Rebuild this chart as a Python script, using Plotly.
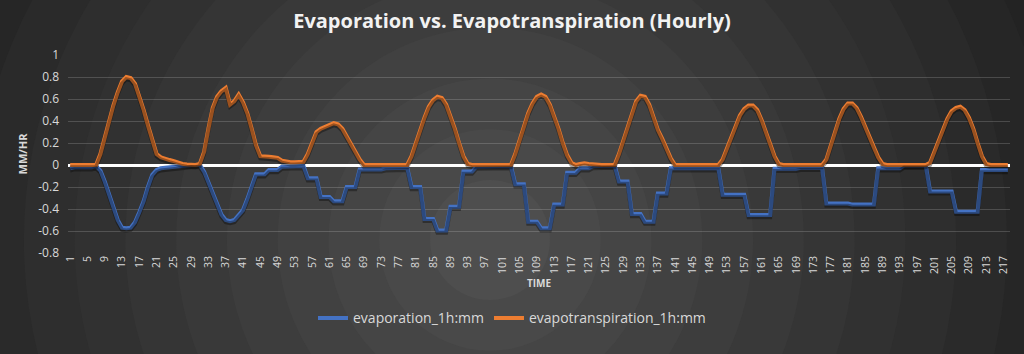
import plotly.graph_objects as go

# Hour index (categories)
hours = list(range(1, 219))

# evapotranspiration_1h:mm, 24 values per row
evapotranspiration = [
    0, 0, 0, 0, 0, 0, 0, 0.1, 0.25, 0.4, 0.54, 0.66, 0.76, 0.8, 0.79, 0.74, 0.63, 0.5, 0.36, 0.22, 0.1, 0.07, 0.055, 0.045,
    0.035, 0.02, 0.01, 0.005, 0, 0, 0.01, 0.12, 0.33, 0.52, 0.62, 0.67, 0.7, 0.55, 0.58, 0.64, 0.57, 0.47, 0.33, 0.18, 0.08, 0.08, 0.075, 0.07,
    0.065, 0.04, 0.03, 0.025, 0.025, 0.025, 0.03, 0.1, 0.2, 0.3, 0.33, 0.35, 0.36, 0.38, 0.37, 0.33, 0.26, 0.19, 0.12, 0.05, 0, 0, 0, 0,
    0, 0, 0, 0, 0, 0, 0, 0.08, 0.2, 0.32, 0.43, 0.53, 0.59, 0.62, 0.61, 0.55, 0.45, 0.33, 0.2, 0.08, 0.01, 0, 0, 0,
    0, 0, 0, 0, 0, 0, 0, 0.1, 0.22, 0.35, 0.47, 0.56, 0.62, 0.64, 0.62, 0.55, 0.45, 0.33, 0.2, 0.09, 0.02, 0, 0.01, 0.015,
    0.01, 0.005, 0, 0, 0, 0, 0, 0.1, 0.22, 0.36, 0.48, 0.58, 0.63, 0.62, 0.55, 0.44, 0.32, 0.24, 0.15, 0.06, 0, 0, 0, 0,
    0, 0, 0, 0, 0, 0, 0, 0.05, 0.15, 0.26, 0.36, 0.45, 0.51, 0.54, 0.54, 0.5, 0.41, 0.3, 0.18, 0.08, 0.01, 0, 0, 0,
    0, 0, 0, 0, 0, 0, 0, 0.05, 0.17, 0.3, 0.42, 0.51, 0.56, 0.56, 0.52, 0.44, 0.34, 0.25, 0.16, 0.07, 0.01, 0, 0, 0,
    0, 0, 0, 0, 0, 0, 0, 0.02, 0.12, 0.22, 0.33, 0.42, 0.49, 0.52, 0.53, 0.5, 0.43, 0.33, 0.2, 0.08, 0.01, 0, 0, 0,
    0, 0,
]

# evaporation_1h:mm, 24 values per row
evaporation = [
    -0.03, -0.02, -0.02, -0.02, -0.02, -0.02, -0.01, -0.05, -0.15, -0.27, -0.39, -0.5, -0.57, -0.575, -0.57, -0.52, -0.43, -0.33, -0.2, -0.09, -0.045, -0.03, -0.025, -0.02,
    -0.02, -0.015, -0.01, -0.005, 0, 0, 0, -0.06, -0.16, -0.27, -0.37, -0.45, -0.5, -0.51, -0.5, -0.46, -0.41, -0.31, -0.19, -0.085, -0.085, -0.085, -0.045, -0.045,
    -0.045, -0.015, -0.015, -0.015, -0.01, -0.01, -0.01, -0.12, -0.12, -0.12, -0.29, -0.29, -0.29, -0.33, -0.33, -0.33, -0.2, -0.2, -0.2, -0.04, -0.04, -0.04, -0.04, -0.04,
    -0.04, -0.03, -0.03, -0.03, -0.025, -0.025, -0.025, -0.2, -0.2, -0.2, -0.49, -0.49, -0.49, -0.595, -0.595, -0.595, -0.38, -0.38, -0.38, -0.06, -0.06, -0.06, -0.015, -0.015,
    -0.015, -0.01, -0.01, -0.01, -0.01, -0.01, -0.01, -0.175, -0.175, -0.175, -0.515, -0.515, -0.515, -0.575, -0.575, -0.575, -0.36, -0.36, -0.36, -0.07, -0.07, -0.07, -0.03, -0.03,
    -0.03, -0.01, -0.01, -0.01, -0.005, -0.005, -0.005, -0.15, -0.15, -0.15, -0.445, -0.445, -0.445, -0.515, -0.515, -0.515, -0.26, -0.26, -0.26, -0.03, -0.03, -0.03, -0.03, -0.03,
    -0.03, -0.03, -0.03, -0.03, -0.03, -0.03, -0.03, -0.27, -0.27, -0.27, -0.27, -0.27, -0.27, -0.455, -0.455, -0.455, -0.455, -0.455, -0.455, -0.035, -0.035, -0.035, -0.035, -0.035,
    -0.035, -0.025, -0.025, -0.025, -0.025, -0.025, -0.025, -0.35, -0.35, -0.35, -0.35, -0.35, -0.35, -0.36, -0.36, -0.36, -0.36, -0.36, -0.36, -0.03, -0.03, -0.03, -0.03, -0.03,
    -0.03, -0.005, -0.005, -0.005, -0.005, -0.005, -0.005, -0.24, -0.24, -0.24, -0.24, -0.24, -0.24, -0.425, -0.425, -0.425, -0.425, -0.425, -0.425, -0.045, -0.045, -0.045, -0.045, -0.045,
    -0.045, -0.045,
]

x_tick_labels = [1, 5, 9, 13, 17, 21, 25, 29, 33, 37, 41, 45, 49, 53, 57, 61, 65, 69, 73, 77,
                 81, 85, 89, 93, 97, 101, 105, 109, 113, 117, 121, 125, 129, 133, 137, 141, 145,
                 149, 153, 157, 161, 165, 169, 173, 177, 181, 185, 189, 193, 197, 201, 205, 209, 213, 217]
y_tick_values = [-0.8, -0.6, -0.4, -0.2, 0, 0.2, 0.4, 0.6, 0.8, 1]
y_tick_labels = ["-0.8", "-0.6", "-0.4", "-0.2", "0", "0.2", "0.4", "0.6", "0.8", "1"]

BLUE = "#4472C4"
ORANGE = "#ED7D31"
TEXT = "#D9D9D9"
FONT = "Open Sans"

fig = go.Figure()

# soft drop shadows (drawn on an offset overlay axis)
for vals in (evaporation, evapotranspiration):
    fig.add_trace(go.Scatter(x=hours, y=vals, mode="lines", xaxis="x", yaxis="y2",
                             line=dict(color="rgba(0,0,0,0.35)", width=4),
                             hoverinfo="skip", showlegend=False))

fig.add_trace(go.Scatter(x=hours, y=evaporation, mode="lines", name="evaporation_1h:mm",
                         line=dict(color=BLUE, width=4)))
fig.add_trace(go.Scatter(x=hours, y=evapotranspiration, mode="lines", name="evapotranspiration_1h:mm",
                         line=dict(color=ORANGE, width=4)))

# radial-ish background made of concentric discs
shapes = []
cx, cy = (490 - 68) / 942, (253 - 240) / 198
n = 14
dark = (29, 29, 29)
light = (78, 78, 78)
for k in range(n):
    t = k / (n - 1)
    r = 720 - t * (720 - 60)
    c = tuple(int(dark[j] + (light[j] - dark[j]) * (t ** 1.1)) for j in range(3))
    shapes.append(dict(type="circle", xref="paper", yref="paper", layer="below",
                       xsizemode="pixel", ysizemode="pixel", xanchor=cx, yanchor=cy,
                       x0=-r, x1=r, y0=-r, y1=r,
                       fillcolor="rgb(%d,%d,%d)" % c, line=dict(width=0)))

fig.update_layout(
    width=1024, height=354,
    margin=dict(l=68, r=14, t=55, b=101, autoexpand=False),
    paper_bgcolor="rgb(29,29,29)",
    plot_bgcolor="rgba(0,0,0,0)",
    shapes=shapes,
    title=dict(text="<b>Evaporation vs. Evapotranspiration (Hourly)</b>",
               x=(512 - 68) / 942, xref="paper", xanchor="center", y=0.94, yanchor="middle",
               font=dict(family=FONT, size=20, color="#F2F2F2")),
    font=dict(family=FONT, color=TEXT),
    showlegend=True,
    legend=dict(orientation="h", x=(512 - 68) / 942, xanchor="center", y=-0.33, yanchor="middle",
                font=dict(family=FONT, size=14, color=TEXT), bgcolor="rgba(0,0,0,0)",
                itemwidth=30, traceorder="normal"),
    xaxis=dict(range=[0.5, 218.5], tickmode="array", tickvals=x_tick_labels,
               ticktext=[str(v) for v in x_tick_labels], tickangle=-90,
               tickfont=dict(family=FONT, size=10.5, color=TEXT),
               showgrid=False, zeroline=False, showline=False, ticks="",
               title=dict(text="<b>TIME</b>", font=dict(family=FONT, size=10, color=TEXT), standoff=6)),
    yaxis=dict(range=[-0.8, 1], tickmode="array", tickvals=y_tick_values, ticktext=y_tick_labels,
               tickfont=dict(family=FONT, size=12, color=TEXT),
               showgrid=True, gridcolor="rgba(255,255,255,0.17)", gridwidth=1,
               zeroline=True, zerolinecolor="#FFFFFF", zerolinewidth=3,
               showline=False, ticks="", ticklabelstandoff=8,
               title=dict(text="<b>MM/HR</b>", font=dict(family=FONT, size=11, color=TEXT), standoff=8)),
    yaxis2=dict(overlaying="y", range=[-0.8 + 0.02, 1 + 0.02], visible=False),
)

fig.write_html("out.html")
